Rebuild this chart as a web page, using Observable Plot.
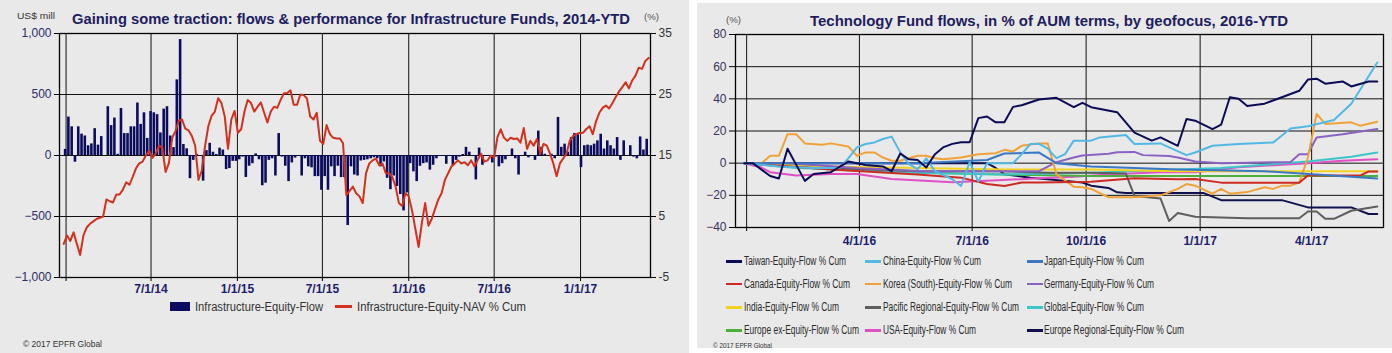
<!DOCTYPE html>
<html><head><meta charset="utf-8">
<script src="https://cdn.jsdelivr.net/npm/d3@7"></script>
<script src="https://cdn.jsdelivr.net/npm/@observablehq/plot@0.6"></script>
<style>
html,body{margin:0;padding:0;background:#fff;}
#wrap{position:relative;width:1392px;height:353px;overflow:hidden;background:#fff;font-family:"Liberation Sans",Arial,sans-serif;}
.panel{position:absolute;background:#e9e9e9;}
.abs{position:absolute;white-space:nowrap;line-height:1;transform-origin:0 50%;}
.plot{position:absolute;}
</style></head>
<body><div id="wrap">
<div class="panel" style="left:0;top:0;width:689px;height:353px"></div>
<div class="panel" style="left:697px;top:3px;width:695px;height:345px"></div>
</div>
<script>
// ---------------- LEFT CHART DATA ----------------
const infraTitle = "Gaining some traction: flows & performance for Infrastructure Funds, 2014-YTD";
const infraFlowStart = "2013-12-31"; // first weekly bar
const infraFlows = [
 50,315,235,-55,235,175,160,80,95,220,85,155,0,400,245,307,10,385,180,180,
 235,235,430,255,350,140,360,350,335,185,380,400,160,65,620,950,90,55,-190,-40,
 10,0,-210,40,100,27,8,60,45,-115,-107,-48,-48,-35,-13,-180,-88,-67,13,-35,
 -248,-227,-40,-27,-168,180,-13,-88,-214,-61,-21,-8,-168,-27,-93,-101,-173,-173,-285,-173,
 -285,-93,-173,-88,-181,-181,-574,-93,-160,-168,-45,-40,-35,-27,-19,-27,-93,-53,-187,-280,
 -168,-254,-320,-454,-307,-67,-134,-214,-88,-67,-61,-120,-80,-27,-8,0,-72,-8,-88,-40,
 -13,8,67,27,0,-200,61,-80,-8,-8,-61,-13,-93,-67,-35,0,53,-27,-160,0,
 27,-19,0,-40,200,67,10,0,10,-27,312,67,93,27,147,180,170,-99,80,85,
 80,93,120,174,53,120,80,53,147,-40,120,-8,80,-13,-27,152,45,133
];
const infraNavStart = "2013-12-27";
const infraNav = [
 0.5,1.9,1.0,2.4,0.5,-1.3,1.9,3.2,3.8,4.2,
 4.6,4.8,5.0,7.8,7.5,7.3,8.6,8.6,9.4,10.6,
 10.2,11.5,12.9,13.7,14.0,15.0,15.8,14.6,15.3,16.6,
 16.3,12.3,13.7,17.9,19.0,20.7,20.9,19.4,19.1,18.2,
 16.6,11.0,12.5,16.5,19.8,21.5,22.2,24.4,23.6,21.4,
 16.1,20.9,22.3,18.7,19.3,22.2,24.1,23.6,22.2,23.0,
 23.7,22.0,20.4,22.2,23.0,22.8,24.1,25.2,25.2,25.7,
 23.3,23.3,25.0,24.9,24.4,21.4,20.9,22.0,17.4,16.9,
 20.0,18.5,17.9,17.8,17.8,17.0,8.5,9.2,9.9,8.8,
 8.3,7.2,12.1,13.7,14.2,14.5,13.4,13.7,12.1,12.1,
 11.5,9.9,7.2,6.7,8.8,8.3,6.0,3.0,0.0,4.0,
 7.2,3.5,4.6,6.2,7.8,8.8,11.0,12.1,13.2,13.7,
 14.2,13.7,13.9,13.4,14.2,13.2,14.3,15.3,14.0,14.2,
 15.0,14.7,18.0,19.3,17.9,17.4,17.9,17.7,17.8,17.1,
 19.5,16.1,17.4,16.6,17.7,15.3,16.9,16.6,15.3,13.7,
 11.6,13.7,14.5,15.3,17.4,18.2,18.5,18.7,18.7,19.3,
 19.8,18.5,20.6,22.0,22.8,23.2,22.7,23.6,24.6,25.5,
 26.2,27.0,26.0,27.3,28.1,29.4,29.2,30.5,31.0
];
const infraFlowTicks = [-1000,-500,0,500,1000];
const infraDateTicks = ["2014-01-01","2014-07-01","2015-01-01","2015-07-01","2016-01-01","2016-07-01","2017-01-01"];
const infraLegend = ["Infrastructure-Equity-Flow","Infrastructure-Equity-NAV % Cum"];

// ---------------- RIGHT CHART DATA ----------------
const techTitle = "Technology Fund flows, in % of AUM terms, by geofocus, 2016-YTD";
const techStart = "2015-12-30"; // week 0
const techNames = ["Taiwan-Equity-Flow % Cum","China-Equity-Flow % Cum","Japan-Equity-Flow % Cum",
 "Canada-Equity-Flow % Cum","Korea (South)-Equity-Flow % Cum","Germany-Equity-Flow % Cum",
 "India-Equity-Flow % Cum","Pacific Regional-Equity-Flow % Cum","Global-Equity-Flow % Cum",
 "Europe ex-Equity-Flow % Cum","USA-Equity-Flow % Cum","Europe Regional-Equity-Flow % Cum"];
const techColors = ["#0b0b55","#52b8e4","#3a78c4","#cc2a22","#f0a23a","#8a63c2",
 "#f2d21e","#5e5e5e","#3cc6c9","#4caf3c","#e04fc4","#10104e"];
// [week, % cum]
const taiwan = [[0,0],[1,0],[3,-8],[4,-9.5],[5,9],[7,-11],[8,-6.7],[10,-5.6],[12,1],[14,-1.2],[16,-2],[17,-5],[18,6],[19,2.4],[20,2],[21,-2.7],[22,5.6],[23,10],[24,12],[25,13],[26,13],[27,28],[28,29],[29,25.4],[30,25.4],[31,35],[32,36],[34,39.6],[36,40.6],[38,34.8],[39,37.5],[40,34.8],[43,31.7],[45,19],[47,14],[48,16],[50,10.8],[51,27.5],[52,26.4],[54,21.2],[55,24],[56,41],[57,40],[58,35.6],[60,37],[62,41],[64,45],[65,52],[66,52.5],[67,49.4],[69,50.8],[70,47.7],[72,50.8],[73,50.8]];
const china = [[0,0],[4,-2],[8,-3],[11,-3],[12,3],[13,9.8],[14,11.9],[15,12.9],[16,15],[17,16.5],[18,6.7],[19,-0.6],[20,-3.7],[21,3],[22,-5],[24,-10],[25,-14.2],[26,0.6],[27,-11.5],[28,0],[31,0],[32,5.6],[33,11.9],[34,12],[35,9],[36,3.1],[37,5.6],[38,14],[40,14],[41,16],[44,17.5],[45,11.9],[48,12.3],[49,9.8],[51,5],[52,6.6],[54,10.8],[57,11.9],[61,12.9],[63,21.6],[65,22.9],[68,26.8],[70,36.9],[73,62.6]];
const japan = [[0,0],[10,0],[20,0],[28,2],[30,6],[34,6.6],[36,0],[40,-2],[50,-4],[60,-5],[66,-7],[73,-9.5]];
const canada = [[0,0],[10,-4],[20,-7],[25,-9],[28,-13],[30,-14.2],[32,-12],[34,-12],[40,-11.5],[45,-9.4],[50,-10],[52,-9.8],[55,-12.1],[64,-12.1],[65,-7.7],[71,-7.7],[72,-5.2],[73,-5.2]];
const korea = [[0,0],[2,0],[3,4.6],[4,4.6],[5,18],[6,18],[7,12.3],[9,11.5],[10,12.3],[12,10.4],[13,4.6],[14,6.7],[15,6.7],[16,3.5],[17,1.5],[18,1.5],[20,4.6],[21,4.6],[22,3.1],[23,2.5],[25,3.5],[27,5.6],[29,6.2],[30,8.3],[31,7.3],[32,10.8],[34,12.3],[35,12.3],[36,-6.8],[38,-14.6],[39,-15],[40,-16],[42,-21.2],[45,-21.2],[48,-20],[50,-16],[51,-13],[52,-14],[54,-19],[55,-16],[56,-19],[58,-18],[60,-15],[61,-16],[62,-14],[63,-14],[64,-12],[65,3.5],[66,30.6],[67,24.4],[70,25.4],[71,23.3],[73,25.8]];
const germany = [[0,0],[5,0],[13,-3],[21,-5],[30,-5],[34,-5],[36,0.6],[38,3.5],[39,4.8],[42,5.8],[43,6.8],[45,7],[46,5],[49,4.4],[50,3.5],[52,1],[55,0],[63,0.8],[64,5.6],[65,5.6],[66,16],[69,18],[73,21.2]];
const india = [[0,0],[10,-2],[20,-3],[30,-4],[40,-4],[50,-5],[60,-5],[73,-5]];
const pacific = [[0,0],[10,-3],[20,-5],[30,-5],[35,-6],[40,-6],[44,-6.5],[45,-20.4],[48,-21.9],[49,-36],[50,-31],[52,-33.3],[58,-34.2],[64,-34.2],[65,-30],[66,-30],[67,-34.6],[68,-34.6],[70,-29.6],[73,-27]];
const global = [[0,0],[6,-3],[12,-4],[20,-6],[30,-7],[40,-6],[50,-4],[55,-3],[60,-1],[65,1],[70,4],[73,6.6]];
const europeEx = [[0,0],[10,-4],[20,-6],[30,-7],[40,-8],[50,-8],[60,-8],[73,-8]];
const usa = [[0,0],[2,-2.7],[3,-5.6],[6,-7.7],[10,-6.7],[13,-6.7],[17,-9.8],[24,-11.9],[28,-11],[34,-9.4],[38,-8.4],[43,-6.8],[48,-5.6],[52,-5.6],[57,-2.6],[65,0],[69,1.5],[73,2.5]];
const europeReg = [[0,0],[10,0],[20,0],[28,0],[29,-3],[30,-6.9],[33,-9],[35,-10],[39,-12],[40,-14],[42,-15.4],[43,-18.1],[44,-18.6],[53,-18.6],[55,-23],[62,-23],[65,-27.5],[70,-27.5],[72,-31.6],[73,-31.6]];
const techSeries = [taiwan,china,japan,canada,korea,germany,india,pacific,global,europeEx,usa,europeReg];
const techYTicks = [-40,-20,0,20,40,60,80];
const techDateTicks = ["2016-01-01","2016-04-01","2016-07-01","2016-10-01","2017-01-01","2017-04-01"];

// ---------------- HELPERS ----------------
const DAY = 864e5;
const wrap = document.getElementById("wrap");
const weekDate = (start, i) => new Date(Date.parse(start) + i * 7 * DAY);
const fmtDate = d3.utcFormat("%-m/%-d/%y");
const FONT = "Liberation Sans, Arial, sans-serif";

function label(txt, o) {
  const el = document.createElement("div");
  el.className = "abs";
  el.textContent = txt;
  Object.assign(el.style, {left: o.x + "px", top: o.y + "px", fontSize: o.size + "px",
    fontWeight: o.weight || 400, color: o.color || "#333", fontFamily: o.family || FONT});
  wrap.appendChild(el);
  const w = el.getBoundingClientRect().width;
  const sx = o.w ? o.w / w : 1;
  el.style.transform = `translateY(-50%) scaleX(${sx})`;
  return el;
}
function box(o) {
  const el = document.createElement("div");
  el.style.position = "absolute";
  Object.assign(el.style, {left: o.x + "px", top: o.y + "px", width: o.w + "px", height: o.h + "px", background: o.c});
  wrap.appendChild(el);
}
function place(svg, x, y) {
  svg.classList.add("plot");
  svg.style.left = x + "px"; svg.style.top = y + "px";
  wrap.appendChild(svg);
}

// ---------------- LEFT PLOT ----------------
const flowData = infraFlows.map((v, i) => ({date: weekDate(infraFlowStart, i), v}));
const navData = infraNav.map((v, i) => ({date: weekDate(infraNavStart, i), v}));
const halfBar = 2.75 * DAY;
const leftPlot = Plot.plot({
  width: 689, height: 300,
  marginLeft: 59, marginRight: 39, marginTop: 33, marginBottom: 23,
  style: {background: "transparent", fontFamily: FONT, overflow: "visible"},
  x: {type: "utc", domain: [new Date("2013-12-18"), new Date("2017-05-30")]},
  y: {domain: [-1000, 1000]},
  marks: [
    Plot.ruleY([-500, 0, 500], {stroke: "#111", strokeWidth: 1}),
    Plot.ruleX(infraDateTicks.map(d => new Date(d)), {stroke: "#111", strokeWidth: 1}),
    Plot.rect(flowData, {x1: d => new Date(+d.date - halfBar), x2: d => new Date(+d.date + halfBar), y1: 0, y2: "v", fill: "#0c0c5e"}),
    Plot.line(navData, {x: "date", y: d => (d.v - 15) * 50, stroke: "#d3301f", strokeWidth: 2}),
    Plot.frame({stroke: "#000", strokeWidth: 1.3}),
    Plot.axisY(infraFlowTicks, {anchor: "left", tickSize: 5, tickPadding: 3, tickFormat: d3.format(","), fontSize: 12, fill: "#2c2c68", label: null}),
    Plot.axisY(infraFlowTicks, {anchor: "right", tickSize: 5, tickPadding: 3, tickFormat: d => String(15 + d / 50), fontSize: 12, fill: "#333", label: null}),
    Plot.axisX(infraDateTicks.map(d => new Date(d)), {anchor: "bottom", tickSize: 4, tickPadding: 3, tickFormat: d => +d === Date.parse("2014-01-01") ? "" : fmtDate(d), fontSize: 12, fontWeight: "bold", fill: "#1c1c6c", label: null})
  ]
});
place(leftPlot, 0, 0);

// ---------------- RIGHT PLOT ----------------
const techData = techSeries.flatMap((s, k) => s.map(([w, v]) => ({name: techNames[k], k, date: weekDate(techStart, w), v})));
const rightPlot = Plot.plot({
  width: 702, height: 255,
  marginLeft: 45, marginRight: 9, marginTop: 34, marginBottom: 28,
  style: {background: "transparent", fontFamily: FONT, overflow: "visible"},
  x: {type: "utc", domain: [new Date("2015-12-23"), new Date("2017-05-29")]},
  y: {domain: [-40, 80]},
  color: {domain: techNames, range: techColors},
  marks: [
    Plot.ruleY([-20, 0, 20, 40, 60], {stroke: "#111", strokeWidth: 1}),
    Plot.ruleX(techDateTicks.map(d => new Date(d)), {stroke: "#111", strokeWidth: 1}),
    ...techSeries.map((s, k) => k).reverse().map(k =>
      Plot.line(techData.filter(d => d.k === k), {x: "date", y: "v", stroke: "name", strokeWidth: 2})),
    Plot.frame({stroke: "#000", strokeWidth: 1.3}),
    Plot.axisY(techYTicks, {anchor: "left", tickSize: 6, tickPadding: 3, fontSize: 12, fill: "#34345e", label: null}),
    Plot.axisX(techDateTicks.map(d => new Date(d)), {anchor: "bottom", tickSize: 4, tickPadding: 5, tickFormat: d => +d === Date.parse("2016-01-01") ? "" : fmtDate(d), fontSize: 12, fontWeight: "bold", fill: "#1c1c6c", label: null})
  ]
});
place(rightPlot, 690, 0);

// ---------------- TEXTS / LEGENDS ----------------
label(infraTitle, {x: 72, y: 18, size: 15, weight: 700, color: "#1d2060", w: 558});
label("US$ mill", {x: 17, y: 16, size: 9, color: "#333", w: 38});
label("(%)", {x: 644, y: 17, size: 9, color: "#555", w: 15});
box({x: 170, y: 302, w: 20, h: 9, c: "#0c0c5e"});
label(infraLegend[0], {x: 195, y: 306.5, size: 12, color: "#333", w: 128});
box({x: 335, y: 305, w: 17, h: 2.5, c: "#d3301f"});
label(infraLegend[1], {x: 357, y: 306.5, size: 12, color: "#333", w: 169});
label("© 2017 EPFR Global", {x: 23, y: 344, size: 8.5, color: "#333", w: 79});

label(techTitle, {x: 810, y: 20, size: 15, weight: 700, color: "#1d2060", w: 478});
label("(%)", {x: 726, y: 19.5, size: 9, color: "#555", w: 15});
const legX = [[726, 744], [865, 883], [1027, 1044]];
const legY = [261, 283.5, 307, 330];
const legW = [102, 98, 100, 106, 129, 110, 95, 136, 100, 115, 93, 140];
techNames.forEach((n, i) => {
  const c = i % 3, r = Math.floor(i / 3);
  box({x: legX[c][0], y: legY[r] - 1, w: 16, h: 2.5, c: techColors[i]});
  label(n, {x: legX[c][1], y: legY[r], size: 12.5, color: "#2a2a2a", w: legW[i]});
});
label("© 2017 EPFR Global", {x: 713, y: 346, size: 7.5, color: "#333", w: 59});
</script>
</body></html>
